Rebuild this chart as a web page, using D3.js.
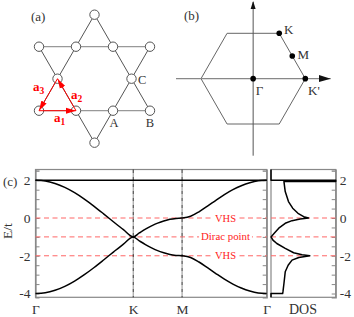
<!DOCTYPE html>
<html>
<head>
<meta charset="utf-8">
<script src="https://cdn.jsdelivr.net/npm/d3@7"></script>
<style>
  html, body { margin: 0; padding: 0; background: #fff; overflow: hidden; }
  text { font-family: "Liberation Serif", serif; fill: #333; }
</style>
</head>
<body>
<div id="chart"></div>
<script>
/*********** DATA ***********/

// (a) lattice, in half-spacing units
let siteU = [3, 0, 2, 4, 6, 1, 5, 0, 2, 4, 6, 3]
let siteV = [0, 1, 1, 1, 1, 2, 2, 3, 3, 3, 3, 4]
let rowLines = [[0, 1, 6, 1], [0, 3, 6, 3]]
let diagLines = [[3, 0, 0, 3], [3, 0, 6, 3], [0, 1, 3, 4], [6, 1, 3, 4]]
let arrowLines = [[0, 3, 2, 3], [2, 3, 1, 2], [1, 2, 0, 3]]
let siteLabels = ["A", "B", "C"]

// (b) Brillouin zone
let zoneX = [-0.5, 0.5, 1, 0.5, -0.5, -1]
let zoneY = [1, 1, 0, -1, -1, 0]
let zonePointX = [0, 0.5, 0.75, 1]
let zonePointY = [0, 1, 0.5, 0]

// (c) bands, read along Gamma-K-M-Gamma
let kPath = [0, 0.1, 0.2, 0.3, 0.4, 0.5, 0.6, 0.7, 0.8, 0.9, 1,
    1.0625, 1.125, 1.1875, 1.25, 1.3125, 1.375, 1.4375, 1.5,
    1.587, 1.673, 1.76, 1.846, 1.933, 2.02, 2.106, 2.193, 2.279, 2.366]
let upperBand = [2, 1.96, 1.83, 1.62, 1.34, 1, 0.62, 0.21, -0.21, -0.62, -1,
    -0.79, -0.59, -0.42, -0.27, -0.16, -0.07, -0.02, 0,
    0.09, 0.33, 0.63, 0.94, 1.24, 1.5, 1.71, 1.87, 1.97, 2]
let lowerBand = [-4, -3.96, -3.83, -3.62, -3.34, -3, -2.62, -2.21, -1.79, -1.38, -1,
    -1.21, -1.41, -1.58, -1.73, -1.84, -1.93, -1.98, -2,
    -2.09, -2.33, -2.63, -2.94, -3.24, -3.5, -3.71, -3.87, -3.97, -4]
let flatBand = [2, 2]
let kTicks = [0, 1, 1.5, 2.366]
let kLabels = ["Γ", "K", "M", "Γ"]
let energyTicks = [-4, -3.5, -3, -2.5, -2, -1.5, -1, -0.5, 0, 0.5, 1, 1.5, 2, 2.5]
let energyLabels = [-4, -2, 0, 2]
let refEnergies = [0, -1, -2]
let refLabels = ["VHS", "Dirac point", "VHS"]

// DOS
let dosEnergy = [-4.2, -4, -4, -3.9, -3.47, -2.85, -2.5, -2.23, -2.09, -2, -1.95, -1.84, -1.61, -1.35, -1.17,
    -1, -0.81, -0.54, -0.28, -0.14, -0.05, 0, 0.07, 0.25, 0.52, 0.87, 1.4, 1.93, 1.93, 2, 2, 2.57]
let dosValue = [0, 0, 0.18, 0.185, 0.2, 0.22, 0.265, 0.325, 0.43, 0.6, 0.48, 0.35, 0.22, 0.09, 0.03,
    0, 0.05, 0.12, 0.22, 0.325, 0.45, 0.58, 0.505, 0.417, 0.335, 0.27, 0.22, 0.2, 1, 1, 0, 0]

/*********** SETUP ***********/

let svg = d3.select("#chart").append("svg")
    .attr("width", 354)
    .attr("height", 317)

let frameColor = "#888"
let dashRed = "#f66"
let textRed = "#f22"

svg.append("defs").append("marker")
    .attr("id", "head")
    .attr("viewBox", "0 0 10 6")
    .attr("refX", 10)
    .attr("refY", 3)
    .attr("markerUnits", "userSpaceOnUse")
    .attr("markerWidth", 10)
    .attr("markerHeight", 6.5)
    .attr("orient", "auto")
    .append("path")
    .attr("d", "M0,0L10,3L0,6Z")
    .attr("fill", "#f00")

function addText(txt, x, y, size, anchor, color) {
    return svg.append("text")
        .attr("x", x)
        .attr("y", y)
        .attr("font-size", size)
        .attr("text-anchor", anchor || "start")
        .style("fill", color || "#333")
        .text(txt)
}

/*********** (a) LATTICE ***********/

let latX = d3.scaleLinear().domain([0, 6]).range([39, 150])
let latY = d3.scaleLinear().domain([0, 4]).range([14.7, 142.7])

function latticeSegments(lines, color, width) {
    return svg.append("g").selectAll("line")
        .data(lines)
        .enter()
        .append("line")
        .attr("x1", d => latX(d[0]))
        .attr("y1", d => latY(d[1]))
        .attr("x2", d => latX(d[2]))
        .attr("y2", d => latY(d[3]))
        .attr("stroke", color)
        .attr("stroke-width", width)
}

latticeSegments(rowLines, "#999", 1.3)
latticeSegments(diagLines, "#555", 1)

svg.append("g").selectAll("circle")
    .data(siteU)
    .enter()
    .append("circle")
    .attr("cx", d => latX(d))
    .attr("cy", (d, i) => latY(siteV[i]))
    .attr("r", 4.7)
    .attr("fill", "#fff")
    .attr("stroke", "#555")
    .attr("stroke-width", 1)

latticeSegments(arrowLines, "#f00", 1).attr("marker-end", "url(#head)")

addText("(a)", 31, 20.5, 13)
addText(siteLabels[0], 114, 127, 12.5, "middle")
addText(siteLabels[1], 150, 127, 12.5, "middle")
addText(siteLabels[2], 138, 84, 12.5)

function vectorLabel(i, x, y) {
    let t = addText("a", x, y, 13, "start", "#f00").attr("font-weight", "bold")
    t.append("tspan")
        .attr("font-size", 9.5)
        .attr("dy", 2.5)
        .text(i)
}
vectorLabel(1, 54, 122)
vectorLabel(2, 71, 99)
vectorLabel(3, 33, 91)

/*********** (b) BRILLOUIN ZONE ***********/

let zx = d3.scaleLinear().domain([-1, 1]).range([201, 305.3])
let zy = d3.scaleLinear().domain([-1, 1]).range([124, 33.3])

let zoneLine = d3.line()
    .x(d => zx(zoneX[d]))
    .y(d => zy(zoneY[d]))
    .curve(d3.curveLinearClosed)

svg.append("path")
    .attr("d", zoneLine(d3.range(zoneX.length)))
    .attr("fill", "none")
    .attr("stroke", "#666")
    .attr("stroke-width", 1)

// k axes
svg.append("line")
    .attr("x1", 176).attr("y1", zy(0))
    .attr("x2", 330.7).attr("y2", zy(0))
    .attr("stroke", "#888").attr("stroke-width", 1.2)
svg.append("path")
    .attr("d", "M319,75L330.7," + zy(0) + "L319,82Z")
    .attr("fill", "#111")
svg.append("line")
    .attr("x1", zx(0)).attr("y1", 155.7)
    .attr("x2", zx(0)).attr("y2", 2)
    .attr("stroke", "#555").attr("stroke-width", 1)
svg.append("path")
    .attr("d", "M" + (zx(0) - 2.5) + ",9L" + zx(0) + ",1L" + (zx(0) + 2.5) + ",9Z")
    .attr("fill", "#111")

svg.append("g").selectAll("circle")
    .data(zonePointX)
    .enter()
    .append("circle")
    .attr("cx", d => zx(d))
    .attr("cy", (d, i) => zy(zonePointY[i]))
    .attr("r", 2.8)
    .attr("fill", "#000")

addText("(b)", 184, 19.5, 13)
addText("K", 284, 33.5, 13)
addText("M", 297.5, 59, 13)
addText("Γ", 255.7, 94.5, 13)
addText("K'", 308, 94.5, 13)

/*********** (c) BANDS + DOS ***********/

let panelTop = 169.5, panelBottom = 297.3
let y = d3.scaleLinear().domain([-4.2, 2.57]).range([panelBottom, panelTop])
let x = d3.scaleLinear().domain([0, 2.366]).range([35.5, 266.7])
let xDos = d3.scaleLinear().domain([0, 1]).range([271, 335.7])

function styleAxis(g) {
    g.selectAll("line").attr("stroke", frameColor)
    g.selectAll("path").attr("stroke", frameColor).attr("stroke-width", 1.2)
    g.selectAll("text")
        .attr("font-size", 13.5)
        .style("fill", "#333")
    g.attr("font-family", null)
}

function energyFormat(d) {
    return energyLabels.includes(d) ? String(d) : ""
}

// frame of the band panel
svg.append("rect")
    .attr("x", x.range()[0]).attr("y", panelTop)
    .attr("width", x.range()[1] - x.range()[0]).attr("height", panelBottom - panelTop)
    .attr("fill", "none").attr("stroke", frameColor).attr("stroke-width", 1.2)
svg.append("rect")
    .attr("x", xDos.range()[0]).attr("y", panelTop)
    .attr("width", xDos.range()[1] - xDos.range()[0]).attr("height", panelBottom - panelTop)
    .attr("fill", "none").attr("stroke", frameColor).attr("stroke-width", 1.2)

svg.append("g")
    .attr("transform", "translate(" + x.range()[0] + ",0)")
    .call(d3.axisLeft(y).tickValues(energyTicks).tickSize(-4).tickPadding(5).tickFormat(energyFormat))
    .call(styleAxis)

svg.append("g")
    .attr("transform", "translate(" + x.range()[1] + ",0)")
    .call(d3.axisRight(y).tickValues(energyTicks).tickSize(-4).tickFormat(""))
    .call(styleAxis)

svg.append("g")
    .attr("transform", "translate(" + xDos.range()[1] + ",0)")
    .call(d3.axisRight(y).tickValues(energyTicks).tickSize(-4).tickPadding(4).tickFormat(energyFormat))
    .call(styleAxis)

svg.append("g")
    .attr("transform", "translate(0," + panelBottom + ")")
    .call(d3.axisBottom(x).tickValues(kTicks).tickSize(0).tickPadding(7).tickFormat((d, i) => kLabels[i]))
    .call(styleAxis)
    .call(g => g.select("path").remove())

// dashed reference levels
for (let scale of [x, xDos]) {
    svg.append("g").selectAll("line")
        .data(refEnergies)
        .enter()
        .append("line")
        .attr("x1", scale.range()[0])
        .attr("x2", scale.range()[1])
        .attr("y1", d => y(d))
        .attr("y2", d => y(d))
        .attr("stroke", dashRed)
        .attr("stroke-dasharray", "5,3.5")
}

// K and M
svg.append("g").selectAll("line")
    .data(kTicks.slice(1, 3))
    .enter()
    .append("line")
    .attr("x1", d => x(d))
    .attr("x2", d => x(d))
    .attr("y1", panelTop)
    .attr("y2", panelBottom)
    .attr("stroke", "#222")
    .attr("stroke-dasharray", "4,1,1,1")

// labels sit on a white patch so the dashes stop around them
refLabels.forEach(function (label, i) {
    let t = addText(label, 225.5, y(refEnergies[i]) + 3.5, i == 1 ? 10.8 : 10.5, "middle", textRed)
    let box = t.node().getBBox()
    svg.insert("rect", () => t.node())
        .attr("x", box.x - 2)
        .attr("y", box.y)
        .attr("width", box.width + 4)
        .attr("height", box.height)
        .attr("fill", "#fff")
})

let bandLine = d3.line()
    .x((d, i) => x(kPath[i]))
    .y(d => y(d))
    .curve(d3.curveMonotoneX)

for (let band of [upperBand, lowerBand]) {
    svg.append("path")
        .attr("d", bandLine(band))
        .attr("fill", "none")
        .attr("stroke", "#000")
        .attr("stroke-width", 1.5)
}

svg.append("line")
    .attr("x1", x.range()[0])
    .attr("x2", x.range()[1])
    .attr("y1", y(flatBand[0]))
    .attr("y2", y(flatBand[1]))
    .attr("stroke", "#000")
    .attr("stroke-width", 1.5)

let dosLine = d3.line()
    .x((d, i) => xDos(dosValue[i]))
    .y(d => y(d))

svg.append("path")
    .attr("d", dosLine(dosEnergy))
    .attr("fill", "none")
    .attr("stroke", "#000")
    .attr("stroke-width", 1.5)
    .attr("stroke-linejoin", "round")

addText("(c)", 3, 186, 13)
addText("DOS", 303, 314, 14, "middle")
svg.append("text")
    .attr("transform", "translate(12,231) rotate(-90)")
    .attr("font-size", 13.5)
    .attr("text-anchor", "middle")
    .text("E/t")
</script>
</body>
</html>
